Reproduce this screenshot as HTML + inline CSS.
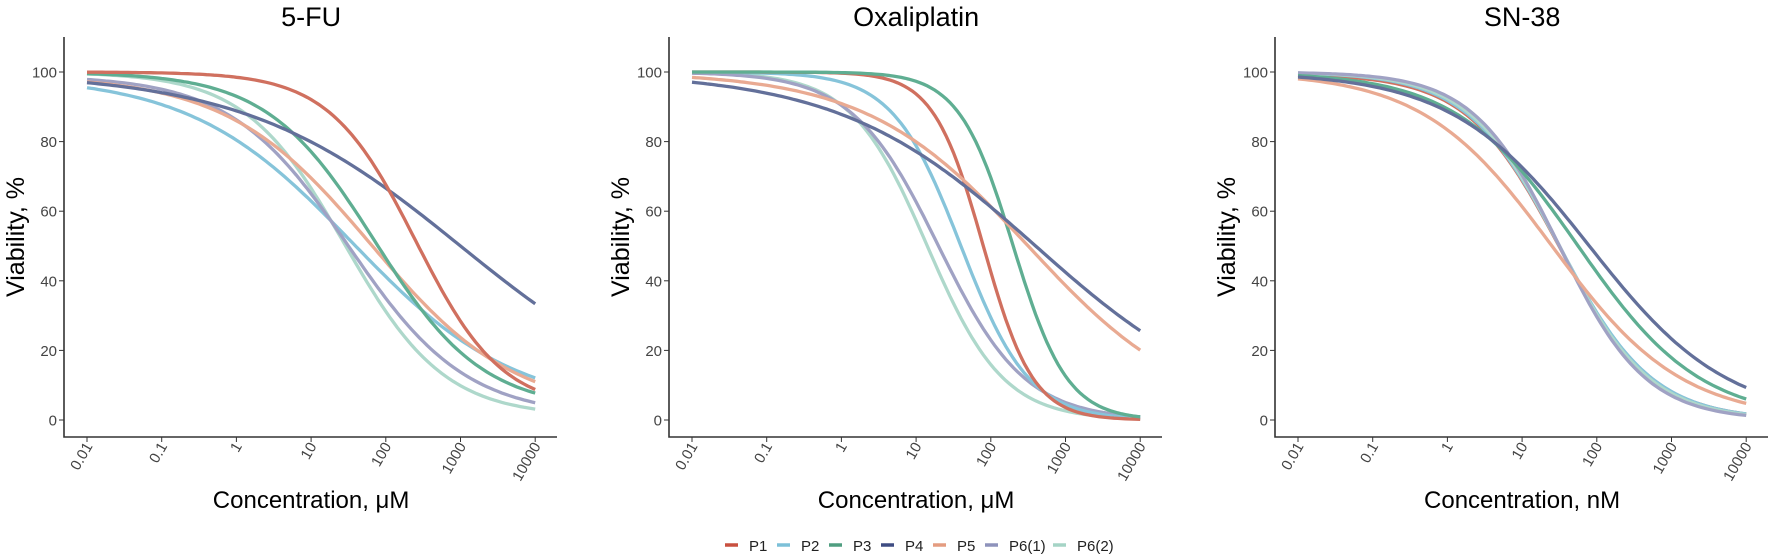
<!DOCTYPE html>
<html><head><meta charset="utf-8"><style>
body{margin:0;background:#fff}
svg{display:block;font-family:"Liberation Sans",Arial,sans-serif}
</style></head><body>
<svg id="s" width="1772" height="555" viewBox="0 0 1772 555" xmlns="http://www.w3.org/2000/svg"></svg>
<script>
const s=document.getElementById('s');
let h='';
const col={P1:'#d0705f',P2:'#86c4da',P3:'#5fae92',P4:'#63709a',P5:'#e9aa92',P6a:'#a0a2c4',P6b:'#aed8cb'};
const panels=[
 {ax:64,title:'5-FU',xl:'Concentration, \u03bcM',curves:[
  ['P2',99,3,1.55,0.4],['P6b',100,1,1.45,0.65],['P6a',99,1,1.5,0.55],['P5',99,2,1.8,0.45],['P3',100,3,1.85,0.6],['P4',100,0,3.0,0.3],['P1',100,3,2.4,0.75]]},
 {ax:669,title:'Oxaliplatin',xl:'Concentration, \u03bcM',curves:[
  ['P6b',100,0,1.15,0.85],['P6a',100,0,1.3,0.75],['P2',100,0,1.6,0.95],['P1',100,0,1.9,1.3],['P3',100,0,2.3,1.2],['P5',100,0,2.5,0.4],['P4',100,0,2.6,0.33]]},
 {ax:1275,title:'SN-38',xl:'Concentration, nM',curves:[
  ['P1',99.5,0,1.5,0.7],['P2',100,0,1.5,0.7],['P6b',100,0,1.5,0.72],['P6a',100,0,1.5,0.75],['P5',100,0,1.4,0.5],['P3',100,0,1.75,0.53],['P4',100,0,1.9,0.47]]}
];
const labs=['0.01','0.1','1','10','100','1000','10000'];
panels.forEach(p=>{
 const x0=p.ax+23,dx=74.7,X=l=>x0+(l+2)*dx,Y=v=>420-v*3.48;
 const cx=x0+3*dx;
 h+=`<text x="${cx}" y="26" font-size="27" text-anchor="middle" fill="#000">${p.title}</text>`;
 h+=`<text transform="translate(${p.ax-40},237) rotate(-90)" font-size="25" text-anchor="middle" fill="#000">Viability, %</text>`;
 h+=`<text x="${cx}" y="508" font-size="24" text-anchor="middle" fill="#000">${p.xl}</text>`;
 p.curves.forEach(c=>{
  const [k,top,bot,e,hh]=c;let d='';
  for(let i=0;i<=120;i++){const l=-2+6*i/120;const v=bot+(top-bot)/(1+Math.pow(10,hh*(l-e)));d+=(i?'L':'M')+X(l).toFixed(1)+','+Y(v).toFixed(1);}
  h+=`<path d="${d}" fill="none" stroke="${col[k]}" stroke-width="3.3"/>`;
 });
 h+=`<path d="M${p.ax},37V437H${p.ax+493}" fill="none" stroke="#333" stroke-width="1.6"/>`;
 for(let v=0;v<=100;v+=20){h+=`<line x1="${p.ax-5}" x2="${p.ax}" y1="${Y(v)}" y2="${Y(v)}" stroke="#333"/><text x="${p.ax-7}" y="${Y(v)+5.5}" font-size="15" text-anchor="end" fill="#444">${v}</text>`;}
 labs.forEach((t,i)=>{const x=X(i-2);h+=`<line x1="${x}" x2="${x}" y1="437" y2="442" stroke="#333"/><text transform="translate(${x+6},446) rotate(-60)" font-size="15" text-anchor="end" fill="#444">${t}</text>`;});
});
const lg=[['P1','#c9503f'],['P2','#7cc0d8'],['P3','#4f9e80'],['P4','#3e4c82'],['P5','#e49c80'],['P6(1)','#8e92bb'],['P6(2)','#a5d4c6']];
let lx=725;
lg.forEach(([t,c])=>{h+=`<line x1="${lx}" x2="${lx+13}" y1="545" y2="545" stroke="${c}" stroke-width="3.5"/><text x="${lx+24}" y="551" font-size="15" fill="#222">${t}</text>`;lx+= t.length>2?68:52;});
s.innerHTML=h;
</script>
</body></html>
